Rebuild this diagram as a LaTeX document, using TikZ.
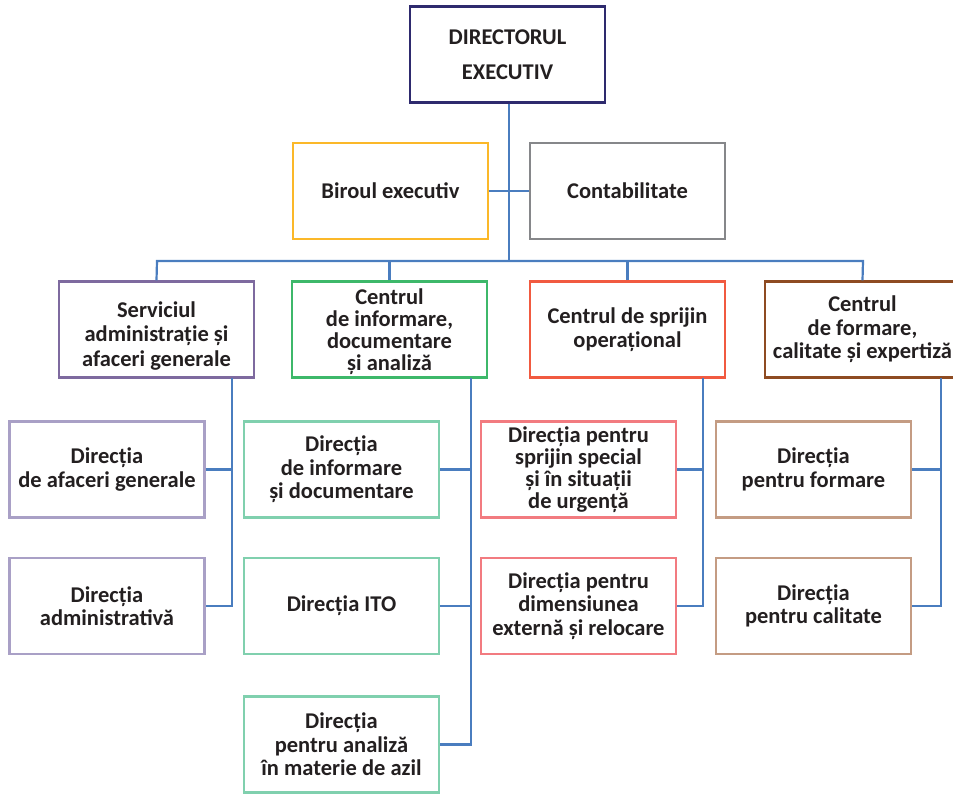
\documentclass[tikz,border=0pt]{standalone}
\usepackage{fontspec}
\setmainfont{Carlito}
\definecolor{navy}{HTML}{2E2A6E}
\definecolor{yel}{HTML}{FBB829}
\definecolor{gry}{HTML}{86878A}
\definecolor{purp}{HTML}{7E6A9F}
\definecolor{grn}{HTML}{3DB86A}
\definecolor{redo}{HTML}{F15A40}
\definecolor{brn}{HTML}{8E4B22}
\definecolor{lpurp}{HTML}{A9A0C6}
\definecolor{lgrn}{HTML}{80D0AE}
\definecolor{pink}{HTML}{F27B80}
\definecolor{tan}{HTML}{C49C83}
\definecolor{conblue}{HTML}{4A7DBF}
\definecolor{txt}{HTML}{231F20}
\tikzset{
  orgbox/.style={draw=#1, line width=2.4pt, fill=white, minimum width=195pt, minimum height=96pt,
    align=center, inner sep=1pt, text=txt,
    font=\fontsize{22.5}{23.5}\selectfont\bfseries},
  tight/.style={font=\fontsize{22.5}{22}\selectfont\bfseries},
  loose/.style={font=\fontsize{22.5}{24.5}\selectfont\bfseries},
  conn/.style={draw=conblue, line width=2.2pt}
}
\begin{document}
\begin{tikzpicture}[x=1pt,y=-1pt]
\useasboundingbox (0,0) rectangle (953,794);
\clip (0,0) rectangle (953,794);
% junction coordinates
\coordinate (bus) at (509,261);
\coordinate (busL) at (157,261);
\coordinate (busR) at (863,261);
\coordinate (servS) at (232,378);
\coordinate (infoS) at (471,378);
\coordinate (sprS) at (703,378);
\coordinate (formS) at (941,378);
% boxes
\node[orgbox=navy, font=\fontsize{22.5}{35}\selectfont\bfseries] (dir) at (507.5,54.5) {DIRECTORUL\\EXECUTIV};
\node[orgbox=yel] (bir) at (390.5,191) {Biroul executiv};
\node[orgbox=gry] (con) at (627.5,191) {Contabilitate};
\node[orgbox=purp, loose] (serv) at (156.5,329.5) {\rule{0pt}{28pt}Serviciul\\administrație și\\afaceri generale};
\node[orgbox=grn, tight] (info) at (389.5,329.5) {\rule{0pt}{21pt}Centrul\\de informare,\\documentare\\și analiză};
\node[orgbox=redo] (spr) at (627.5,329.5) {Centrul de sprijin\\operațional};
\node[orgbox=brn] (form) at (862.5,329.5) {Centrul\\de formare,\\calitate și expertiză};
\node[orgbox=lpurp] (afac) at (107,469.5) {Direcția\\de afaceri generale};
\node[orgbox=lpurp] (adm) at (107,606) {Direcția\\administrativă};
\node[orgbox=lgrn] (idoc) at (341.5,469.5) {Direcția\\de informare\\și documentare};
\node[orgbox=lgrn] (ito) at (341.5,606) {Direcția ITO};
\node[orgbox=lgrn] (azil) at (341.5,744.5) {Direcția\\pentru analiză\\în materie de azil};
\node[orgbox=pink, tight] (sps) at (578.5,469.5) {Direcția pentru\\sprijin special\\și în situații\\de urgență};
\node[orgbox=pink] (dim) at (578.5,606) {Direcția pentru\\dimensiunea\\externă și relocare};
\node[orgbox=tan] (dfor) at (813.5,469.5) {Direcția\\pentru formare};
\node[orgbox=tan] (dcal) at (813.5,606) {Direcția\\pentru calitate};
% connectors
\draw[conn] (dir.south -| bus) -- (bus);
\draw[conn] (bir.east) -- (con.west);
\draw[conn] (serv.north) -- (busL) -- (busR) -- (form.north);
\draw[conn] (info.north) -- (info.north |- bus);
\draw[conn] (spr.north) -- (spr.north |- bus);
\draw[conn] (servS) |- (adm.east);
\draw[conn] (afac.east) -- (afac.east -| servS);
\draw[conn] (infoS) |- (azil.east);
\draw[conn] (idoc.east) -- (idoc.east -| infoS);
\draw[conn] (ito.east) -- (ito.east -| infoS);
\draw[conn] (sprS) |- (dim.east);
\draw[conn] (sps.east) -- (sps.east -| sprS);
\draw[conn] (formS) |- (dcal.east);
\draw[conn] (dfor.east) -- (dfor.east -| formS);
\end{tikzpicture}
\end{document}
